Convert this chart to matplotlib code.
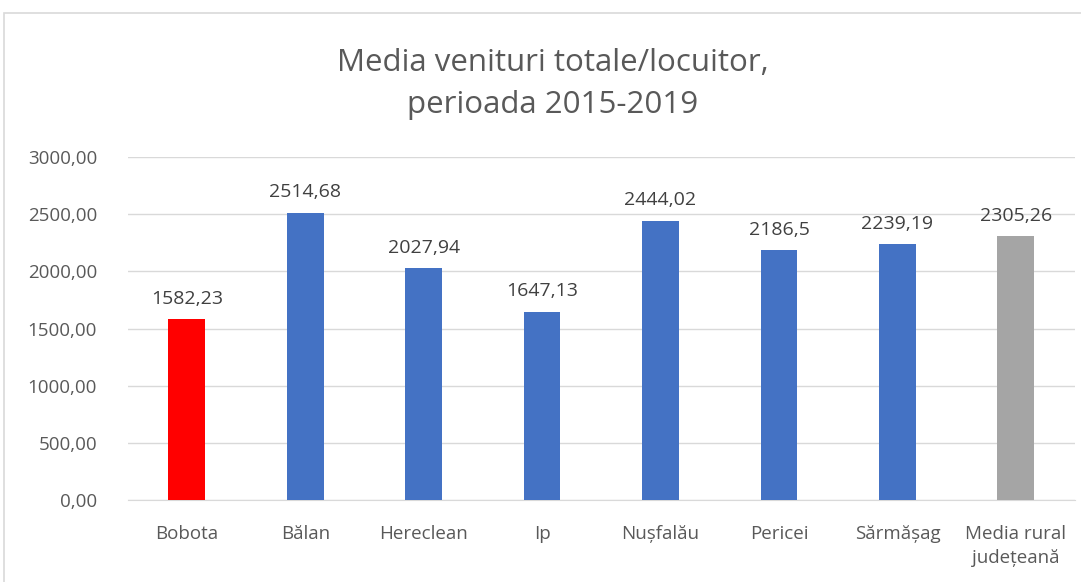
import numpy as np
import matplotlib.pyplot as plt
from matplotlib.patches import Rectangle

categories = ['Bobota', 'Bălan', 'Hereclean', 'Ip', 'Nușfalău', 'Pericei',
              'Sărmășag', 'Media rural\njudețeană']
values = [1582.23, 2514.68, 2027.94, 1647.13, 2444.02, 2186.5, 2239.19, 2305.26]
colors = ['#FF0000', '#4472C4', '#4472C4', '#4472C4', '#4472C4', '#4472C4',
          '#4472C4', '#A5A5A5']
yticks = [0, 500, 1000, 1500, 2000, 2500, 3000]

plt.rcParams['font.family'] = ['Open Sans', 'DejaVu Sans']

fig = plt.figure(figsize=(10.81, 5.82), dpi=100)
fig.patches.append(Rectangle((4 / 1081, -0.1), 1.2, 1.1 - 13 / 582,
                             transform=fig.transFigure, fill=False,
                             edgecolor='#d9d9d9', linewidth=1.2))

ax = fig.add_axes([0.118, 0.1409, 0.8765, 0.5893])
x = np.arange(len(categories))
ax.bar(x, values, width=0.31, color=colors, zorder=3)

for xi, v in zip(x, values):
    ax.text(xi, v + 100, ('%g' % v).replace('.', ','), ha='center', va='bottom',
            fontsize=14, color='#404040')

ax.set_xlim(-0.5, len(categories) - 0.5)
ax.set_ylim(0, 3000)
ax.set_yticks(yticks)
ax.set_yticklabels(['%d,00' % t for t in yticks])
ax.set_xticks(x)
ax.set_xticklabels(categories, va='top', linespacing=1.45)
ax.tick_params(axis='both', length=0, labelsize=13.5, labelcolor='#595959')
ax.tick_params(axis='y', pad=22)
ax.tick_params(axis='x', pad=18)
ax.grid(axis='y', color='#d9d9d9', linewidth=1, zorder=0)
for s in ['top', 'right', 'left']:
    ax.spines[s].set_visible(False)
ax.spines['bottom'].set_color('#d9d9d9')

fig.text(0.511, 0.918, 'Media venituri totale/locuitor,\nperioada 2015-2019',
         ha='center', va='top', fontsize=22.5, color='#595959', linespacing=1.55)

fig.savefig('out.png', dpi=100)
